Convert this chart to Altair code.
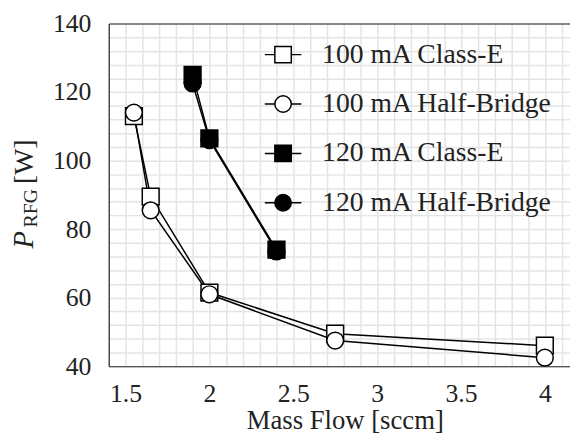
import altair as alt
import pandas as pd

# ---- data ----
series_names = ["100 mA Class-E", "100 mA Half-Bridge", "120 mA Class-E", "120 mA Half-Bridge"]

flow_100 = [1.55, 1.65, 2.0, 2.75, 4.0]
p_100_classe = [113, 89.5, 61.5, 49.5, 46.0]
p_100_hb = [114, 85.5, 61.0, 47.5, 42.5]

flow_120 = [1.9, 2.0, 2.4]
p_120_classe = [125, 106.5, 74.0]
p_120_hb = [122.5, 106.0, 73.5]

x_ticks = [round(1.4 + 0.1 * i, 1) for i in range(28)]   # 1.4 ... 4.1 (grid)
y_ticks = list(range(40, 141, 4))                         # 40 ... 140 (grid)

rows = []
for name, xs, ys in [
    (series_names[0], flow_100, p_100_classe),
    (series_names[1], flow_100, p_100_hb),
    (series_names[2], flow_120, p_120_classe),
    (series_names[3], flow_120, p_120_hb),
]:
    for xv, yv in zip(xs, ys):
        rows.append({"flow": xv, "power": yv, "series": name})
df = pd.DataFrame(rows)

FONT = "Liberation Serif"
TXT = "#222222"
GRID = "#e4e4e4"

xscale = alt.Scale(domain=[1.4, 4.15], nice=False, zero=False)
yscale = alt.Scale(domain=[40, 140], nice=False, zero=False)

xaxis = alt.Axis(
    values=x_ticks,
    labelExpr="abs(datum.value*2 - round(datum.value*2)) < 1e-6 ? format(datum.value, '~g') : ''",
    title="Mass Flow [sccm]",
    titleFont=FONT, titleFontSize=27, titleFontWeight="normal", titleColor=TXT,
    titleBaseline="alphabetic", titleY=63, titleX=239,
    labelFont=FONT, labelFontSize=26, labelColor=TXT, labelPadding=15,
    labelFlush=False, labelOverlap=False,
    ticks=False, grid=True, gridColor=GRID, gridWidth=1.5,
    domainColor="#262626", domainWidth=1.2,
)
yaxis = alt.Axis(
    values=y_ticks,
    labelExpr="datum.value % 20 == 0 ? datum.label : ''",
    title=None,
    labelFont=FONT, labelFontSize=26, labelColor=TXT, labelPadding=18,
    labelFlush=False, labelOverlap=False,
    ticks=False, grid=True, gridColor=GRID, gridWidth=1.5,
    domainColor="#262626", domainWidth=1.2,
)

X = alt.X("flow:Q", scale=xscale, axis=xaxis)
Xn = alt.X("flow:Q", scale=xscale, axis=None)
Y = alt.Y("power:Q", scale=yscale, axis=yaxis)

base = alt.Chart(df)

lines = base.mark_line(color="black", strokeWidth=1.5).encode(
    x=X, y=Y, detail="series:N"
)

points = base.mark_point(size=289, stroke="black", strokeWidth=1.5, opacity=1, fillOpacity=1).encode(
    x=Xn, y=Y,
    shape=alt.Shape("series:N", sort=series_names,
                    scale=alt.Scale(domain=series_names, range=["square", "circle", "square", "circle"]),
                    legend=None),
    fill=alt.Fill("series:N", sort=series_names,
                  scale=alt.Scale(domain=series_names, range=["white", "white", "black", "black"]),
                  legend=None),
)

sq_path = "M-1,0H-0.45M0.45,0H1M-0.45,-0.45H0.45V0.45H-0.45Z"
ci_path = "M-0.45,0A0.45,0.45,0,1,1,0.45,0A0.45,0.45,0,1,1,-0.45,0ZM-1,0H-0.45M0.45,0H1"

legend = alt.Legend(
    title=None, orient="none", legendX=157, legendY=12,
    labelFont=FONT, labelFontSize=28, labelColor=TXT, labelLimit=400,
    labelOffset=20, rowPadding=16,
    symbolSize=1369, symbolStrokeWidth=1.5,
    symbolOpacity=1,
)

legend_layer = base.mark_point(size=1369, opacity=0).encode(
    x=Xn, y=Y,
    shape=alt.Shape("series:N", sort=series_names,
                    scale=alt.Scale(domain=series_names, range=[sq_path, ci_path, sq_path, ci_path]),
                    legend=legend),
    fill=alt.Fill("series:N", sort=series_names,
                  scale=alt.Scale(domain=series_names, range=["white", "white", "black", "black"]),
                  legend=legend),
    stroke=alt.Stroke("series:N", sort=series_names,
                      scale=alt.Scale(domain=series_names, range=["black", "black", "black", "black"]),
                      legend=legend),
)

# top frame line via an independent top axis
top_axis = base.mark_point(opacity=0).encode(
    x=alt.X("flow:Q", scale=xscale,
            axis=alt.Axis(orient="top", labels=False, ticks=False, grid=False, title=None,
                          domainColor="#262626", domainWidth=1.2)),
    y=Y,
)

# y-axis title  P_RFG [W]
t_p = alt.Chart(pd.DataFrame({"t": ["P"]})).mark_text(
    font=FONT, fontSize=29, fontStyle="italic", angle=270, align="center", baseline="middle", color=TXT
).encode(text="t:N", x=alt.value(-86), y=alt.value(219))
t_sub = alt.Chart(pd.DataFrame({"t": ["RFG"]})).mark_text(
    font=FONT, fontSize=20, angle=270, align="center", baseline="middle", color=TXT
).encode(text="t:N", x=alt.value(-79), y=alt.value(187))
t_w = alt.Chart(pd.DataFrame({"t": ["[W]"]})).mark_text(
    font=FONT, fontSize=28, angle=270, align="center", baseline="middle", color=TXT
).encode(text="t:N", x=alt.value(-85), y=alt.value(140))

chart = alt.layer(top_axis, lines, legend_layer, points, t_p, t_sub, t_w).resolve_scale(
    shape="independent", fill="independent", stroke="independent"
).resolve_axis(x="independent").properties(
    width=467, height=347,
    autosize=alt.AutoSizeParams(type="none"),
    padding={"left": 102, "top": 13, "right": 0, "bottom": 74},
    background="white",
).configure_view(stroke=None)

chart.save("out.html", embed_options={"renderer": "svg", "actions": False})
